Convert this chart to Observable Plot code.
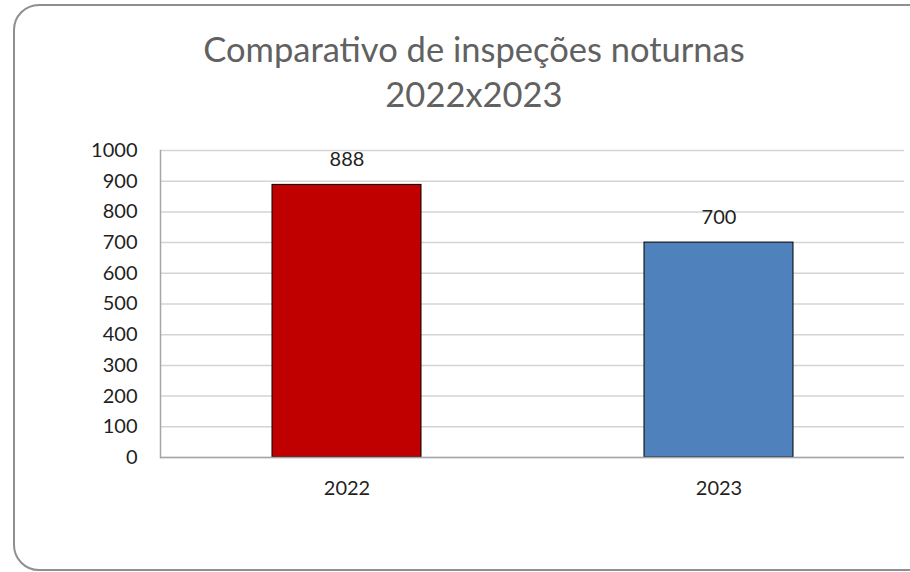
<!DOCTYPE html>
<html>
<head>
<meta charset="utf-8">
<script src="https://cdn.jsdelivr.net/npm/d3@7"></script>
<script src="https://cdn.jsdelivr.net/npm/@observablehq/plot@0.6"></script>
<style>
  html, body { margin: 0; padding: 0; background: #fff; }
  #wrap { position: relative; width: 910px; height: 572px; overflow: hidden; font-family: Lato, "Open Sans", sans-serif; }
  #border { position: absolute; left: 13px; top: 4px; width: 1000px; height: 567px; border: 2px solid #8f8f8f; border-radius: 26px; box-sizing: border-box; }
  #title { position: absolute; left: 0; top: 26px; width: 948px; text-align: center; color: #616161; font-size: 34.5px; line-height: 45px; }
  #chart { position: absolute; left: 0; top: 0; }
</style>
</head>
<body>
<div id="wrap">
  <div id="border"></div>
  <div id="chart"></div>
  <div id="title">Comparativo de inspeções noturnas<br>2022x2023</div>
</div>
<script>
const years = ["2022", "2023"];
const inspections = [888, 700];
const barColors = ["#C00000", "#4F81BD"];
const yTicks = [0, 100, 200, 300, 400, 500, 600, 700, 800, 900, 1000];

const data = years.map((y, i) => ({year: y, value: inspections[i], color: barColors[i]}));

const chart = Plot.plot({
  width: 910,
  height: 572,
  marginTop: 150,
  marginBottom: 115,
  marginLeft: 160,
  marginRight: 6,
  style: {fontFamily: "Lato, 'Open Sans', sans-serif", fontSize: "20px", color: "#1f1f1f", background: "transparent"},
  x: {domain: years, paddingInner: 0.6, paddingOuter: 0.3, label: null},
  y: {domain: [0, 1000], label: null},
  marks: [
    Plot.gridY(yTicks, {stroke: "#d4d4d4", strokeOpacity: 1, strokeWidth: 1.5}),
    Plot.axisY(yTicks, {tickSize: 0, tickPadding: 23, fontSize: 20, fill: "#1f1f1f", label: null, tickFormat: d => String(d)}),
    Plot.axisX({tickSize: 0, tickPadding: 23, fontSize: 20, fill: "#1f1f1f", label: null}),
    Plot.barY(data, {x: "year", y: "value", fill: "color", stroke: "#000", strokeWidth: 1}),
    Plot.text(data, {x: "year", y: "value", text: d => String(d.value), dy: -25, fontSize: 20, fill: "#1f1f1f"}),
    Plot.ruleY([0], {stroke: "#a6a6a6", strokeWidth: 1.5}),
    Plot.frame({anchor: "left", stroke: "#a6a6a6", strokeWidth: 1.5})
  ]
});
document.getElementById("chart").appendChild(chart);
</script>
</body>
</html>
